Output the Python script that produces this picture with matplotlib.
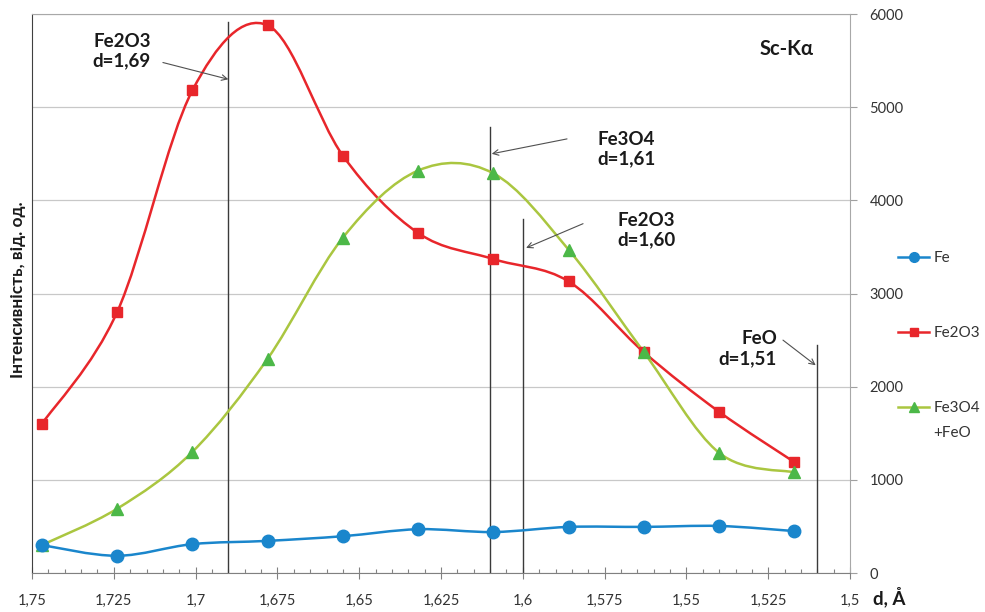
import numpy as np
import matplotlib.pyplot as plt
from matplotlib.path import Path
from matplotlib.patches import PathPatch
from matplotlib.lines import Line2D
from matplotlib.ticker import FuncFormatter, MultipleLocator

plt.rcParams['font.family'] = ['Lato', 'DejaVu Sans']

# ---------------------------------------------------------
# DATA
# ---------------------------------------------------------
d = [1.747, 1.724, 1.701, 1.678, 1.655, 1.632, 1.609, 1.586, 1.563, 1.540, 1.517]
fe = [300, 185, 310, 345, 395, 470, 440, 495, 495, 505, 450]
fe2o3 = [1600, 2800, 5180, 5880, 4480, 3650, 3370, 3130, 2370, 1730, 1190]
fe3o4 = [300, 690, 1300, 2300, 3600, 4320, 4290, 3470, 2370, 1290, 1080]

xticks = [1.75, 1.725, 1.7, 1.675, 1.65, 1.625, 1.6, 1.575, 1.55, 1.525, 1.5]
yticks = [0, 1000, 2000, 3000, 4000, 5000, 6000]

# reference lines: d value, top of the line (intensity)
ref_d = [1.69, 1.61, 1.60, 1.51]
ref_top = [5920, 4790, 3800, 2450]

c_fe = '#1a86cc'
c_red = '#e8262b'
c_grn_m = '#4cb848'
c_grn_l = '#aac640'


def smooth(x, y):
    # excel-like smoothed line as cubic bezier through the points
    p = np.column_stack([x, y]).astype(float)
    n = len(p)
    verts = [p[0]]
    codes = [Path.MOVETO]
    for i in range(n - 1):
        p0 = p[i - 1] if i > 0 else p[i]
        p3 = p[i + 2] if i + 2 < n else p[i + 1]
        verts.append(p[i] + (p[i + 1] - p0) / 6)
        verts.append(p[i + 1] - (p3 - p[i]) / 6)
        verts.append(p[i + 1])
        codes += [Path.CURVE4] * 3
    return Path(verts, codes)


fig = plt.figure(figsize=(9.85, 6.12), dpi=100)
ax = fig.add_axes([0.0325, 0.0637, 0.8305, 0.9133])

ax.set_xlim(1.75, 1.5)
ax.set_ylim(0, 6000)

ax.yaxis.grid(True, color='#c8c8c8', linewidth=0.9)
ax.set_axisbelow(True)

# curves
for ys, lc, mc, mk, ms in [(fe2o3, c_red, c_red, 's', 7.5),
                          (fe3o4, c_grn_l, c_grn_m, '^', 8.5),
                          (fe, c_fe, c_fe, 'o', 9)]:
    ax.add_patch(PathPatch(smooth(d, ys), fill=False, edgecolor=lc, lw=1.8, zorder=3))
    ax.plot(d, ys, ls='none', marker=mk, ms=ms, color=mc, zorder=4)

# vertical reference lines
for xv, top in zip(ref_d, ref_top):
    ax.plot([xv, xv], [0, top], color='#3a3a3a', lw=1.0, zorder=2)

# annotations: text + separate thin arrow
arrow = dict(arrowstyle='->', color='#505050', lw=0.8, shrinkA=0, shrinkB=0)
font_ann = dict(fontsize=13.5, fontweight='bold', color='#1a1a1a', va='center')

ax.text(1.7225, 5600, 'Fe2O3\nd=1,69', ha='center', multialignment='center', **font_ann)
ax.annotate('', xy=(1.69, 5300), xytext=(1.710, 5480), arrowprops=arrow)

ax.text(1.5773, 4550, 'Fe3O4\nd=1,61', ha='left', **font_ann)
ax.annotate('', xy=(1.6095, 4500), xytext=(1.5865, 4660), arrowprops=arrow)

ax.text(1.5712, 3680, 'Fe2O3\nd=1,60', ha='left', **font_ann)
ax.annotate('', xy=(1.599, 3490), xytext=(1.5816, 3750), arrowprops=arrow)

ax.text(1.5223, 2410, 'FeO\nd=1,51', ha='right', multialignment='right', **font_ann)
ax.annotate('', xy=(1.5105, 2230), xytext=(1.5205, 2500), arrowprops=arrow)

ax.text(1.5195, 5620, 'Sc-K\u03b1', fontsize=14.5, fontweight='bold',
        ha='center', va='center', color='#1a1a1a')

# axes formatting
ax.set_xticks(xticks)
ax.xaxis.set_minor_locator(MultipleLocator(0.005))
ax.xaxis.set_major_formatter(FuncFormatter(lambda v, p: ('%g' % v).replace('.', ',')))
ax.tick_params(axis='x', which='major', direction='inout', length=8, width=0.8,
               color='#808080', labelsize=10.5, pad=11, labelcolor='#333333')
ax.tick_params(axis='x', which='minor', direction='in', length=3, width=0.8, color='#808080')

ax.yaxis.tick_right()
ax.set_yticks(yticks)
ax.tick_params(axis='y', which='major', direction='out', length=5, width=0.8,
               color='#a0a0a0', labelsize=10.5, pad=9, labelcolor='#333333')

for s in ['top', 'right']:
    ax.spines[s].set_color('#a8a8a8')
ax.spines['bottom'].set_color('#808080')
ax.spines['left'].set_color('#404040')

fig.text(0.018, 0.526, 'Інтенсивність, від. од.', rotation=90, fontsize=12.5,
         fontweight='bold', ha='center', va='center', color='#1a1a1a')
fig.text(0.903, 0.025, 'd, Å', fontsize=13.5, fontweight='bold',
         ha='center', va='center', color='#1a1a1a')

handles = [Line2D([], [], color=c_fe, marker='o', ms=7, lw=1.8),
           Line2D([], [], color=c_red, mec=c_red, mfc=c_red, marker='s', ms=6, lw=1.8),
           Line2D([], [], color=c_grn_l, mec=c_grn_m, mfc=c_grn_m, marker='^', ms=7, lw=1.8)]
fig.legend(handles, ['Fe', 'Fe2O3', 'Fe3O4'], loc='upper left',
           bbox_to_anchor=(0.912, 0.59), frameon=False, borderpad=0,
           borderaxespad=0, fontsize=11, labelspacing=4.0, handlelength=2.0,
           handletextpad=0.3, labelcolor='#333333')
fig.text(0.947, 1 - 433 / 612, '+FeO', fontsize=11, ha='left', va='center', color='#333333')

plt.savefig('out.png', dpi=100)
